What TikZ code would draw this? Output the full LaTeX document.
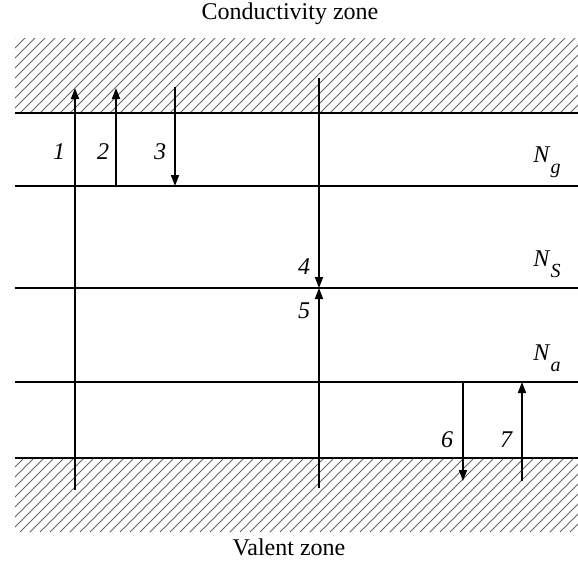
\documentclass[tikz,border=0pt]{standalone}
\usepackage{fontspec}
\setmainfont{Liberation Serif}
\usetikzlibrary{arrows.meta}

\newcommand{\lvlN}[1]{\textit{N}\raisebox{-0.45em}{\fontsize{20}{20}\selectfont\textit{#1}}}

\begin{document}
\begin{tikzpicture}[
  x=1pt,y=-1pt,
  font=\fontsize{24}{28}\selectfont,
  level/.style={line width=2.3pt},
  hatch/.style={gray!80!black,line width=0.9pt},
  trans/.style={line width=1.8pt,-{Triangle[length=11pt,width=8pt]}},
  num/.style={font=\fontsize{24}{28}\selectfont\itshape,anchor=center},
  lab/.style={anchor=center}
]
\useasboundingbox (0,0) rectangle (578,563);

% zones
\begin{scope}
\clip (15,38) rectangle (578,113);
\foreach \x in {-80,-70,...,600} \draw[hatch] (\x,113) -- ++(80,-80);
\end{scope}
\begin{scope}
\clip (15,458) rectangle (578,532);
\foreach \x in {-80,-70,...,600} \draw[hatch] (\x,532) -- ++(80,-80);
\end{scope}

\node[lab] (cz) at (290,14) {Conductivity zone};
\node[lab] (vz) at (289,547) {Valent zone};

% levels
\draw[level] (15,113) -- (578,113);
\draw[level] (15,186) -- (578,186);
\draw[level] (15,288) -- (578,288);
\draw[level] (15,382) -- (578,382);
\draw[level] (15,458) -- (578,458);

\node[lab] (ng) at (547,162) {\lvlN{g}};
\node[lab] (ns) at (547,264) {\lvlN{S}};
\node[lab] (na) at (547,358) {\lvlN{a}};

% transitions
\coordinate (t1a) at (75,490);  \coordinate (t1b) at (75,88);
\coordinate (t2a) at (116,186); \coordinate (t2b) at (116,88);
\coordinate (t3a) at (175,87);  \coordinate (t3b) at (175,186);
\coordinate (t4a) at (319,78);  \coordinate (t4b) at (319,288);
\coordinate (t5a) at (319,488); \coordinate (t5b) at (319,288);
\coordinate (t6a) at (463,382); \coordinate (t6b) at (463,481);
\coordinate (t7a) at (522,481); \coordinate (t7b) at (522,382);

\draw[trans] (t1a) -- (t1b);
\draw[trans] (t2a) -- (t2b);
\draw[trans] (t3a) -- (t3b);
\draw[trans] (t4a) -- (t4b);
\draw[trans] (t5a) -- (t5b);
\draw[trans] (t6a) -- (t6b);
\draw[trans] (t7a) -- (t7b);

\node[num] (n1) at (59,152) {1};
\node[num] (n2) at (103,152) {2};
\node[num] (n3) at (160,152) {3};
\node[num] (n4) at (304,267) {4};
\node[num] (n5) at (304,311) {5};
\node[num] (n6) at (447,440) {6};
\node[num] (n7) at (506,440) {7};
\end{tikzpicture}
\end{document}
